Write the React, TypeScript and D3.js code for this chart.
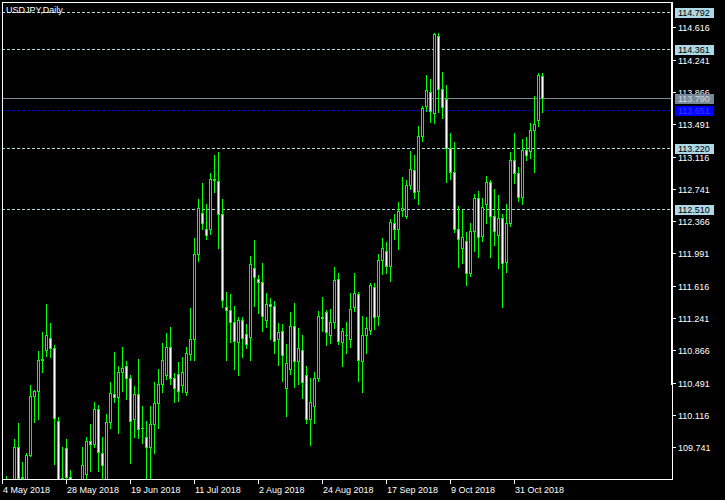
import * as d3 from "d3";

// USDJPY daily, 4 May 2018 .. 9 Nov 2018 (one bar per trading day)
const opens = [
  109.18, 109.10, 109.08, 109.12, 109.74, 109.39, 109.36, 109.65, 110.34, 110.39,
  110.75, 110.87, 111.01, 110.89, 110.05, 109.39, 109.73, 109.40, 108.78, 108.85,
  108.80, 109.43, 109.81, 109.78, 110.19, 109.68, 109.36, 110.03, 110.36, 110.32,
  110.61, 110.68, 110.54, 110.07, 110.36, 109.97, 109.86, 109.74, 110.01, 110.25,
  110.48, 110.58, 110.90, 110.55, 110.59, 110.46, 110.38, 110.82, 111.00, 111.98,
  112.46, 112.27, 112.27, 112.86, 112.83, 112.45, 111.37, 111.34, 111.19, 110.96,
  111.22, 111.06, 111.02, 111.82, 111.70, 111.66, 111.22, 111.40, 111.38, 111.00,
  111.09, 110.43, 110.65, 111.15, 110.74, 110.87, 110.58, 110.07, 110.22, 110.55,
  111.25, 111.31, 111.04, 111.19, 111.69, 110.96, 111.05, 111.00, 111.37, 111.52,
  110.74, 111.05, 111.10, 111.60, 111.26, 111.92, 112.02, 111.84, 112.35, 112.27,
  112.50, 112.42, 112.79, 112.96, 112.72, 113.35, 113.70, 113.87, 113.62, 114.51,
  113.90, 113.78, 113.22, 112.94, 112.27, 112.06, 112.13, 111.76, 112.25, 112.64,
  112.19, 112.57, 112.82, 112.43, 112.21, 112.40, 111.89, 112.35, 113.08, 112.93,
  112.65, 113.19, 113.18, 113.42, 113.54, 114.05,
];
const highs = [
  109.35, 109.41, 109.35, 109.84, 110.02, 109.57, 109.68, 110.46, 110.41, 110.86,
  111.08, 111.40, 111.18, 110.93, 110.09, 109.74, 109.84, 109.48, 109.17, 109.05,
  109.74, 109.86, 110.01, 110.27, 110.23, 109.86, 110.13, 110.50, 110.85, 110.69,
  110.91, 110.74, 110.58, 110.45, 110.77, 110.22, 110.05, 110.22, 110.50, 110.65,
  110.95, 111.07, 111.14, 110.60, 110.73, 110.79, 110.91, 111.36, 112.17, 112.62,
  112.81, 112.56, 112.93, 113.13, 113.17, 112.62, 111.54, 111.52, 111.38, 111.25,
  111.25, 111.17, 111.96, 112.15, 111.74, 111.88, 111.53, 111.47, 111.44, 111.18,
  111.17, 110.94, 111.31, 111.42, 111.13, 111.05, 110.68, 110.55, 110.61, 111.32,
  111.48, 111.34, 111.35, 111.83, 111.76, 111.13, 111.19, 111.53, 111.76, 111.54,
  111.26, 111.25, 111.65, 111.65, 111.99, 112.17, 112.12, 112.39, 112.45, 112.59,
  112.88, 112.84, 113.18, 113.13, 113.47, 113.70, 114.06, 114.02, 114.55, 114.55,
  114.10, 113.95, 113.39, 113.29, 112.54, 112.49, 112.24, 112.34, 112.68, 112.72,
  112.64, 112.89, 112.84, 112.74, 112.67, 112.45, 112.56, 113.17, 113.39, 113.00,
  113.32, 113.34, 113.50, 113.82, 114.08, 114.08,
];
const lows = [
  108.65, 108.95, 108.85, 109.00, 109.25, 109.20, 109.20, 109.64, 110.04, 110.07,
  110.61, 110.80, 110.79, 109.55, 109.15, 109.15, 109.30, 108.11, 108.60, 108.70,
  108.75, 109.30, 109.47, 109.74, 109.47, 109.20, 109.30, 109.96, 110.27, 109.91,
  110.39, 110.30, 109.56, 109.86, 109.85, 109.79, 109.36, 109.38, 109.68, 109.96,
  110.38, 110.53, 110.48, 110.27, 110.28, 110.38, 110.35, 110.76, 110.75, 111.90,
  112.27, 112.16, 112.22, 112.71, 112.05, 111.37, 110.75, 110.96, 110.65, 110.58,
  110.79, 110.89, 110.75, 111.38, 111.30, 111.09, 111.14, 111.00, 110.83, 110.70,
  110.51, 110.11, 110.59, 110.44, 110.47, 110.31, 110.02, 109.77, 110.02, 110.51,
  111.09, 110.93, 110.95, 111.13, 110.94, 110.68, 110.84, 110.90, 111.32, 110.51,
  110.38, 110.84, 111.06, 111.11, 111.16, 111.75, 111.76, 111.67, 112.16, 112.04,
  112.42, 112.40, 112.74, 112.63, 112.56, 113.30, 113.65, 113.52, 113.51, 113.63,
  113.56, 112.82, 112.86, 112.24, 111.83, 111.88, 111.62, 111.73, 112.02, 111.95,
  112.14, 112.34, 111.95, 112.09, 111.82, 111.37, 111.77, 112.31, 112.81, 112.60,
  112.56, 113.07, 113.10, 112.94, 113.47, 113.63,
];
const closes = [
  109.12, 109.08, 109.10, 109.74, 109.39, 109.40, 109.65, 110.34, 110.39, 110.75,
  110.77, 111.04, 110.89, 110.08, 109.25, 109.30, 109.40, 108.78, 108.85, 108.80,
  109.53, 109.81, 109.78, 110.19, 109.69, 109.54, 110.03, 110.37, 110.33, 110.62,
  110.66, 110.54, 110.05, 110.36, 109.95, 109.96, 109.74, 110.01, 110.25, 110.48,
  110.76, 110.90, 110.55, 110.43, 110.40, 110.61, 110.84, 111.00, 111.99, 112.52,
  112.34, 112.20, 112.86, 112.84, 112.45, 111.45, 111.34, 111.19, 110.97, 111.22,
  111.01, 110.94, 111.87, 111.72, 111.66, 111.27, 111.40, 111.38, 110.98, 111.08,
  110.81, 110.72, 111.15, 110.74, 110.89, 110.50, 110.07, 110.27, 110.55, 111.26,
  111.24, 111.08, 111.19, 111.68, 110.97, 111.09, 111.04, 111.35, 111.53, 110.75,
  111.04, 111.12, 111.62, 111.25, 111.91, 112.05, 111.84, 112.36, 112.27, 112.48,
  112.52, 112.79, 112.97, 112.71, 113.35, 113.68, 113.89, 113.65, 114.54, 113.90,
  113.69, 113.22, 112.94, 112.27, 112.16, 112.18, 111.76, 112.25, 112.63, 112.18,
  112.53, 112.82, 112.43, 112.25, 112.40, 111.88, 112.35, 113.08, 112.93, 112.65,
  113.19, 113.13, 113.42, 113.49, 114.06, 113.79,
];

const dateTicks = [0, 16, 32, 48, 64, 80, 96, 112, 128];
const dateLabels = [
  "4 May 2018", "28 May 2018", "19 Jun 2018", "11 Jul 2018", "2 Aug 2018",
  "24 Aug 2018", "17 Sep 2018", "9 Oct 2018", "31 Oct 2018",
];
const priceTicks = [
  114.616, 114.241, 113.866, 113.491, 113.116, 112.741, 112.366,
  111.991, 111.616, 111.241, 110.866, 110.491, 110.116, 109.741,
];
const levelLines = [114.792, 114.361, 113.220, 112.510];
const lastPrice = 113.790;
const blueLine = 113.651;

const W = 725;
const H = 500;
const left = 2;
const right = 672;
const top = 2;
const bottom = 479;
const font = "'Liberation Sans', Arial, sans-serif";
const lime = "#00ff00";

const x = d3.scaleLinear().domain([0, 1]).range([2, 6]);
const y = d3.scaleLinear().domain([109.741, 114.616]).range([447.3, 27.3]);
const py = (v: number) => Math.round(y(v)) + 0.5;

function PriceTag({ v, bg, fg }: { v: number; bg: string; fg: string }) {
  const yy = Math.round(y(v));
  return (
    <g>
      <rect x={675} y={yy - 4} width={39} height={10} fill={bg} />
      <text x={678} y={yy + 4} fontSize={9} fill={fg} fontFamily={font}>
        {v.toFixed(3)}
      </text>
    </g>
  );
}

export default function App() {
  return (
    <svg
      width={W}
      height={H}
      style={{ position: "absolute", left: 0, top: 0, background: "#000" }}
    >
      <defs>
        <clipPath id="plot">
          <rect x={left + 1} y={top + 1} width={right - left - 1} height={bottom - top - 1} />
        </clipPath>
      </defs>
      <rect x={0} y={0} width={W} height={H} fill="#000" />

      <g clipPath="url(#plot)">
        {levelLines.map((v) => (
          <line key={v} x1={left} x2={right} y1={py(v)} y2={py(v)}
            stroke="#add8e6" strokeDasharray="3,2" />
        ))}
        <line x1={left} x2={right} y1={py(lastPrice)} y2={py(lastPrice)} stroke="#778899" />
        <line x1={left} x2={right} y1={py(blueLine)} y2={py(blueLine)}
          stroke="#0000ff" strokeDasharray="3,2" />

        <g shapeRendering="crispEdges">
          {opens.map((o, i) => {
            const c = closes[i];
            const cx = Math.round(x(i));
            const yh = Math.round(y(highs[i]));
            const yl = Math.round(y(lows[i]));
            const t = Math.round(y(Math.max(o, c)));
            const b = Math.round(y(Math.min(o, c)));
            return (
              <g key={i}>
                <rect x={cx} y={yh} width={1} height={yl - yh + 1} fill={lime} />
                <rect x={cx - 1} y={t} width={3} height={b - t + 1} fill={lime} />
                {b - t >= 2 && (
                  <rect x={cx} y={t + 1} width={1} height={b - t - 1}
                    fill={c < o ? "#ffffff" : "#000000"} />
                )}
              </g>
            );
          })}
        </g>
      </g>

      <text x={6} y={13} fontSize={9} fill="#fff" fontFamily={font}>USDJPY,Daily</text>

      {/* frame */}
      <g shapeRendering="crispEdges">
        <rect x={left + 0.5} y={top + 0.5} width={right - left} height={bottom - top}
          fill="none" stroke="#fff" />
        <line x1={right - 0.5} x2={right - 0.5} y1={top} y2={385} stroke="#fff" />
      </g>

      {/* price axis */}
      {priceTicks.map((v) => (
        <g key={v}>
          <line x1={right} x2={676} y1={py(v)} y2={py(v)} stroke="#fff" shapeRendering="crispEdges" />
          <text x={678} y={Math.round(y(v)) + 4} fontSize={9} fill="#fff" fontFamily={font}>
            {v.toFixed(3)}
          </text>
        </g>
      ))}
      {levelLines.map((v) => (
        <PriceTag key={v} v={v} bg="#add8e6" fg="#000" />
      ))}
      <PriceTag v={lastPrice} bg="#778899" fg="#d8d8d8" />
      <PriceTag v={blueLine} bg="#0000ff" fg="#3c3cff" />

      {/* time axis */}
      {dateTicks.map((d, k) => {
        const tx = Math.round(x(d));
        return (
          <g key={d}>
            <line x1={tx + 0.5} x2={tx + 0.5} y1={bottom} y2={484} stroke="#fff" shapeRendering="crispEdges" />
            <text x={tx + 1} y={493} fontSize={9} fill="#fff" fontFamily={font}>
              {dateLabels[k]}
            </text>
          </g>
        );
      })}
    </svg>
  );
}
